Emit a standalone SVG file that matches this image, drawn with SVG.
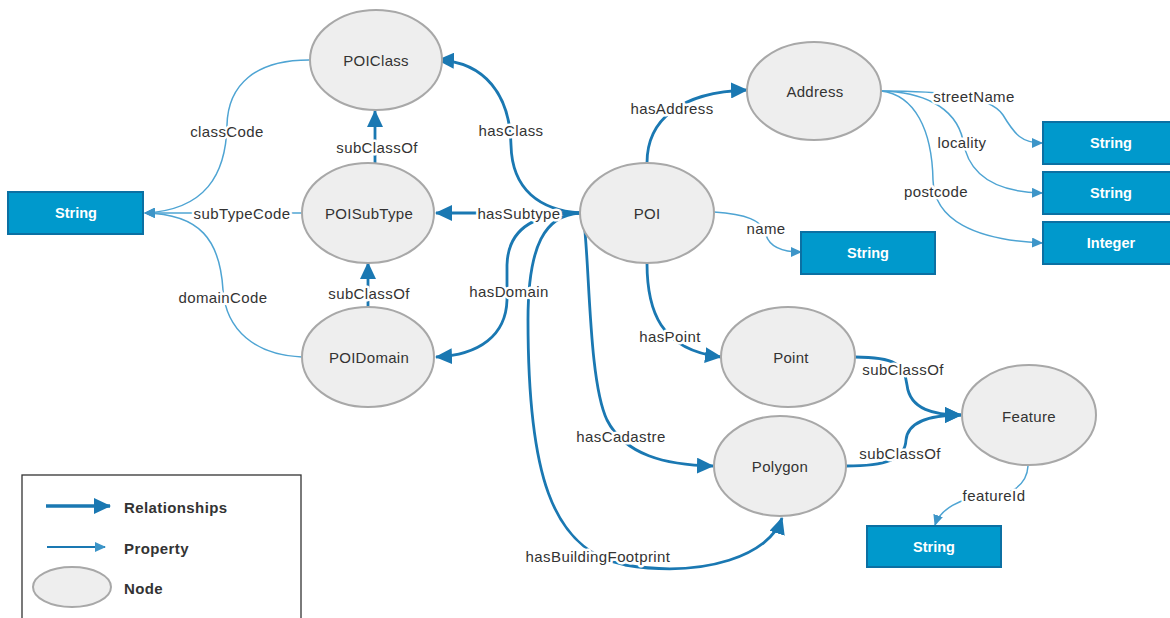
<svg xmlns="http://www.w3.org/2000/svg" width="1170" height="618" viewBox="0 0 1170 618">
<defs>
<style>
.node ellipse{fill:#eeeeee;stroke:#a8a8a8;stroke-width:2}
.node text{font-family:"Liberation Sans",Arial,sans-serif;font-size:15px;fill:#333;text-anchor:middle;dominant-baseline:central;letter-spacing:0.3px}
.lit rect{fill:#0099cc;stroke:#0b70a3;stroke-width:2}
.lit text{font-family:"Liberation Sans",Arial,sans-serif;font-size:14.5px;font-weight:bold;fill:#fff;text-anchor:middle;dominant-baseline:central}
.rel{fill:none;stroke:#1a78b2;stroke-width:2.8;marker-end:url(#relA)}
.prop{fill:none;stroke:#4ea4d3;stroke-width:1.5;marker-end:url(#propA)}
.lbl{font-family:"Liberation Sans",Arial,sans-serif;font-size:15px;fill:#333;text-anchor:middle;dominant-baseline:central;letter-spacing:0.4px;stroke:#fff;stroke-width:5px;paint-order:stroke;stroke-linejoin:round}
.leg{font-family:"Liberation Sans",Arial,sans-serif;font-size:15px;font-weight:bold;fill:#333;dominant-baseline:central;letter-spacing:0.4px}
</style>
<marker id="relA" viewBox="0 0 17 16" refX="16" refY="8" markerWidth="17" markerHeight="16" markerUnits="userSpaceOnUse" orient="auto"><path d="M0,0 L17,8 L0,16 Z" fill="#1a78b2"/></marker>
<marker id="propA" viewBox="0 0 11 10" refX="10" refY="5" markerWidth="11" markerHeight="10" markerUnits="userSpaceOnUse" orient="auto"><path d="M0,0 L11,5 L0,10 Z" fill="#3d95c8"/></marker>
</defs>
<rect width="1170" height="618" fill="#fff"/>

<g id="connectors">
<path class="rel" d="M 580 213 C 540 210, 512 190, 511 145 C 510 95, 485 62, 438 60"/>
<path class="rel" d="M 580 213 L 436 213"/>
<path class="rel" d="M 580 213 C 540 213, 508 225, 507 265 L 507 300 C 506 335, 480 355, 436 357"/>
<path class="rel" d="M 583 213 C 590 260, 588 380, 607 420 C 625 455, 665 465, 713 466"/>
<path class="rel" d="M 580 213 C 545 215, 528 245, 528 320 C 528 470, 550 550, 625 565 C 705 578, 770 555, 782 518"/>
<path class="rel" d="M 647 163 C 647 120, 680 92, 747 90"/>
<path class="rel" d="M 647 263 C 647 310, 660 350, 721 357"/>
<path class="rel" d="M 855 357 C 895 357, 905 365, 907 385 C 910 410, 935 415, 961 415"/>
<path class="rel" d="M 846 466 C 885 466, 905 460, 906 440 C 908 420, 935 415, 961 415"/>
<path class="rel" d="M 375 163 L 375 111"/>
<path class="rel" d="M 368 307 L 368 263"/>

<path class="prop" d="M 309 60 C 255 60, 228 85, 227 125 C 226 175, 205 210, 145 213"/>
<path class="prop" d="M 302 213 L 145 213"/>
<path class="prop" d="M 302 357 C 255 355, 226 330, 223 290 C 220 240, 200 214, 145 213"/>
<path class="prop" d="M 881 91 C 940 91, 990 95, 1003 115 C 1015 135, 1022 143, 1042 143"/>
<path class="prop" d="M 881 91 C 920 92, 955 105, 963 140 C 968 175, 995 192, 1042 193"/>
<path class="prop" d="M 881 91 C 915 95, 932 130, 933 180 C 934 220, 975 240, 1042 243"/>
<path class="prop" d="M 714 212 C 745 214, 763 220, 766 235 C 770 248, 785 252, 801 252"/>
<path class="prop" d="M 1028 466 C 1027 485, 1010 497, 985 497 C 960 497, 940 510, 935 525"/>

<text class="lbl" x="227" y="131">classCode</text>
<text class="lbl" x="242" y="213">subTypeCode</text>
<text class="lbl" x="223" y="297">domainCode</text>
<text class="lbl" x="377" y="147">subClassOf</text>
<text class="lbl" x="369" y="293">subClassOf</text>
<text class="lbl" x="511" y="130">hasClass</text>
<text class="lbl" x="519" y="213">hasSubtype</text>
<text class="lbl" x="509" y="291">hasDomain</text>
<text class="lbl" x="672" y="108">hasAddress</text>
<text class="lbl" x="766" y="228">name</text>
<text class="lbl" x="974" y="96">streetName</text>
<text class="lbl" x="962" y="142">locality</text>
<text class="lbl" x="936" y="191">postcode</text>
<text class="lbl" x="670" y="336">hasPoint</text>
<text class="lbl" x="621" y="436">hasCadastre</text>
<text class="lbl" x="598" y="556">hasBuildingFootprint</text>
<text class="lbl" x="903" y="369">subClassOf</text>
<text class="lbl" x="900" y="453">subClassOf</text>
<text class="lbl" x="994" y="495">featureId</text>
</g>

<g id="POIClass" class="node"><ellipse cx="376" cy="60" rx="66" ry="50"/><text x="376" y="60">POIClass</text></g>
<g id="POISubType" class="node"><ellipse cx="368" cy="213" rx="66" ry="50"/><text x="369" y="213">POISubType</text></g>
<g id="POIDomain" class="node"><ellipse cx="368" cy="357" rx="66" ry="50"/><text x="369" y="357">POIDomain</text></g>
<g id="POI" class="node"><ellipse cx="647" cy="213" rx="67" ry="50"/><text x="647" y="213">POI</text></g>
<g id="Address" class="node"><ellipse cx="814" cy="91" rx="67" ry="49"/><text x="815" y="91">Address</text></g>
<g id="Point" class="node"><ellipse cx="788" cy="357" rx="67" ry="50"/><text x="791" y="357">Point</text></g>
<g id="Polygon" class="node"><ellipse cx="780" cy="466" rx="66" ry="50"/><text x="780" y="466">Polygon</text></g>
<g id="Feature" class="node"><ellipse cx="1029" cy="415" rx="67" ry="50"/><text x="1029" y="416">Feature</text></g>

<g id="StringCode" class="lit"><rect x="8" y="192" width="135" height="42"/><text x="76" y="213">String</text></g>
<g id="StringStreet" class="lit"><rect x="1043" y="122" width="135" height="42"/><text x="1111" y="143">String</text></g>
<g id="StringLocality" class="lit"><rect x="1043" y="172" width="135" height="42"/><text x="1111" y="193">String</text></g>
<g id="IntegerPostcode" class="lit"><rect x="1043" y="222" width="135" height="42"/><text x="1111" y="243">Integer</text></g>
<g id="StringName" class="lit"><rect x="801" y="232" width="134" height="42"/><text x="868" y="253">String</text></g>
<g id="StringFeatureId" class="lit"><rect x="867" y="526" width="134" height="41"/><text x="934" y="547">String</text></g>

<g id="legend">
<rect x="22" y="475" width="279" height="150" fill="#fff" stroke="#333" stroke-width="1.3"/>
<path d="M 46 506 L 110 506" fill="none" stroke="#1a78b2" stroke-width="3.5" marker-end="url(#relA)"/>
<text class="leg" x="124" y="507">Relationships</text>
<path d="M 47 547 L 105 547" fill="none" stroke="#1a78b2" stroke-width="2" marker-end="url(#propA)"/>
<text class="leg" x="124" y="548">Property</text>
<ellipse cx="72" cy="587" rx="39" ry="20" fill="#eeeeee" stroke="#a8a8a8" stroke-width="2"/>
<text class="leg" x="124" y="588">Node</text>
</g>
</svg>
